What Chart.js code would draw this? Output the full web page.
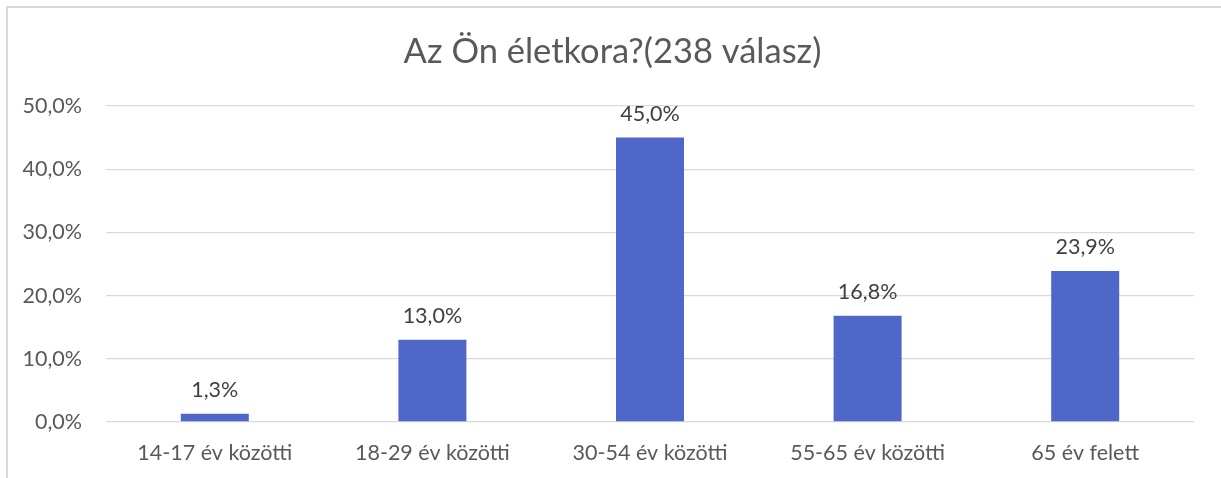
<!DOCTYPE html>
<html>
<head>
<meta charset="utf-8">
<script src="https://cdn.jsdelivr.net/npm/chart.js@4.4.1/dist/chart.umd.min.js"></script>
<style>
  html, body { margin: 0; padding: 0; background: #fff; overflow: hidden; }
  #wrap { position: relative; width: 1221px; height: 478px; }
  #frame { position: absolute; left: 6px; top: 6px; width: 1240px; height: 500px; border: 2px solid #d9d9d9; box-sizing: border-box; }
  canvas { position: absolute; left: 0; top: 0; }
</style>
</head>
<body>
<div id="wrap">
  <div id="frame"></div>
  <canvas id="c" width="1221" height="478"></canvas>
</div>
<script>
const titleText = 'Az Ön életkora?(238 válasz)';
const categories = ['14-17 év közötti', '18-29 év közötti', '30-54 év közötti', '55-65 év közötti', '65 év felett'];
const values = [1.3, 13.0, 45.0, 16.8, 23.9];
const yTicks = [0, 10, 20, 30, 40, 50];

const FONT = 'Lato, "Open Sans", sans-serif';
const fmt = v => v.toFixed(1).replace('.', ',') + '%';

const dataLabels = {
  id: 'dataLabels',
  afterDatasetsDraw(chart) {
    const ctx = chart.ctx;
    const meta = chart.getDatasetMeta(0);
    ctx.save();
    ctx.font = '21.5px ' + FONT;
    ctx.fillStyle = '#404040';
    ctx.textAlign = 'center';
    ctx.textBaseline = 'middle';
    meta.data.forEach((el, i) => {
      ctx.fillText(fmt(values[i]), el.x, el.y - 24);
    });
    ctx.restore();
  }
};

const chartTitle = {
  id: 'chartTitle',
  afterDraw(chart) {
    const ctx = chart.ctx;
    ctx.save();
    ctx.font = '34.5px ' + FONT;
    ctx.fillStyle = '#595959';
    ctx.textAlign = 'center';
    ctx.textBaseline = 'middle';
    ctx.fillText(titleText, chart.width / 2 + 2, 52);
    ctx.restore();
  }
};

new Chart(document.getElementById('c'), {
  type: 'bar',
  data: {
    labels: categories,
    datasets: [{
      data: values,
      backgroundColor: '#4e67c8',
      borderWidth: 0,
      categoryPercentage: 1,
      barPercentage: 0.3125
    }]
  },
  options: {
    responsive: false,
    animation: false,
    devicePixelRatio: 1,
    layout: { padding: { left: 0, right: 27, top: 106, bottom: 0 } },
    plugins: {
      legend: { display: false },
      tooltip: { enabled: false },
      title: { display: false }
    },
    scales: {
      x: {
        grid: { display: false, drawTicks: false },
        border: { display: false },
        ticks: { color: '#595959', font: { family: FONT, size: 21.5 }, padding: 18, maxRotation: 0 },
        afterFit: s => { s.height = 56; }
      },
      y: {
        min: 0, max: 50,
        afterBuildTicks: s => { s.ticks = yTicks.map(v => ({ value: v })); },
        grid: { color: '#d9d9d9', lineWidth: 1.3, drawTicks: false },
        border: { display: false },
        ticks: { color: '#595959', font: { family: FONT, size: 21.5 }, padding: 24, callback: v => fmt(v) },
        afterFit: s => { s.width = 106; }
      }
    }
  },
  plugins: [dataLabels, chartTitle]
});
</script>
</body>
</html>
